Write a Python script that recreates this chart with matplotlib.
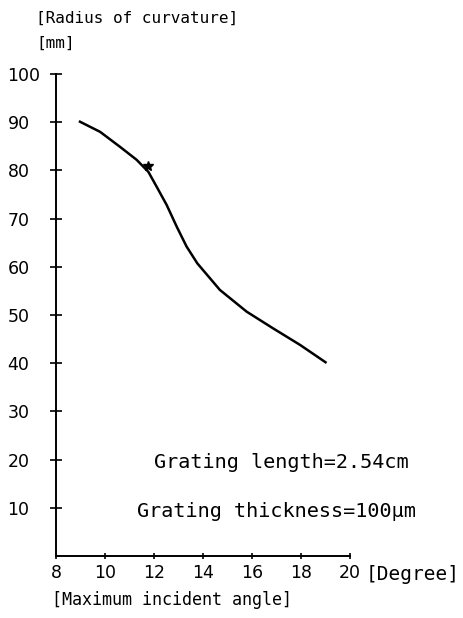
import numpy as np
import matplotlib
matplotlib.use('Agg')
import matplotlib.pyplot as plt

# data
angle = [8.98, 9.8, 10.61, 11.29, 11.77, 12.11, 12.52, 12.93, 13.33, 13.77,
         14.69, 15.78, 16.87, 17.96, 19.0]
radius = [90.1, 88.0, 84.9, 82.2, 79.7, 76.6, 72.8, 68.3, 64.2, 60.7,
          55.2, 50.7, 47.2, 43.8, 40.2]
mark_x = [11.75]
mark_y = [81.0]
xticks = [8, 10, 12, 14, 16, 18, 20]
yticks = [10, 20, 30, 40, 50, 60, 70, 80, 90, 100]

mono = 'DejaVu Sans Mono'

fig = plt.figure(figsize=(4.64, 6.18), dpi=100)
ax = fig.add_axes([56/464, 62/618, 294/464, 482/618])

ax.plot(angle, radius, color='black', lw=1.8, solid_joinstyle='round')
ax.plot(mark_x, mark_y, marker='*', ms=7, color='black', ls='none')

ax.set_xlim(8, 20)
ax.set_ylim(0, 100)
for s in ['top', 'right']:
    ax.spines[s].set_visible(False)
for s in ['left', 'bottom']:
    ax.spines[s].set_linewidth(1.4)

ax.set_xticks(xticks)
ax.set_yticks(yticks)
ax.set_xticklabels([str(t) for t in xticks], fontsize=12.5)
ax.set_yticklabels([str(t) for t in yticks], fontsize=12.5, ha='left')
ax.tick_params(axis='y', direction='inout', length=8, width=1.2, pad=31)
ax.tick_params(axis='x', direction='inout', length=5, width=1.2, pad=3)

ax.text(17.2, 19.3, 'Grating length=2.54cm', family=mono, fontsize=14.5,
        ha='center', va='center')
ax.text(17.0, 9.3, 'Grating thickness=100\u03bcm', family=mono, fontsize=14.5,
        ha='center', va='center')

fig.text(36/464, 1 - 18/618, '[Radius of curvature]', family=mono,
         fontsize=11.5, ha='left', va='center')
fig.text(36/464, 1 - 43/618, '[mm]', family=mono, fontsize=11.5,
         ha='left', va='center')
fig.text(366/464, 1 - 574/618, '[Degree]', family=mono, fontsize=14,
         ha='left', va='center')
fig.text(52/464, 1 - 600/618, '[Maximum incident angle]', family=mono,
         fontsize=12, ha='left', va='center')

fig.savefig('out.png', dpi=100)
